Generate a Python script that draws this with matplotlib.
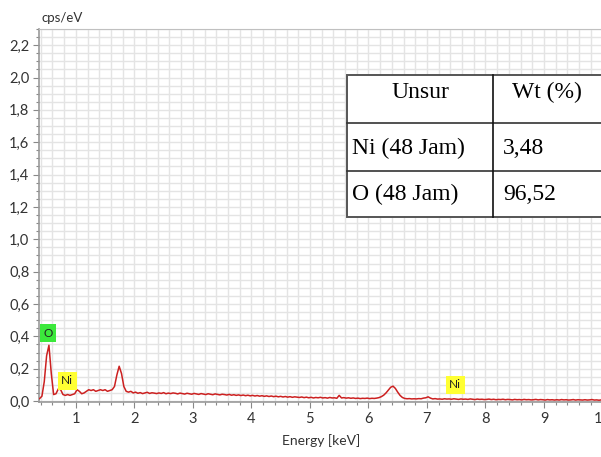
import matplotlib
matplotlib.use("Agg")
import matplotlib.pyplot as plt
from matplotlib.ticker import MultipleLocator, FuncFormatter
from matplotlib.lines import Line2D
import numpy as np

# EDS spectrum: channel start / width (keV) and intensities (cps/eV)
energy_start = 0.38
energy_step = 0.04
counts = [
    0.015, 0.03, 0.12, 0.28, 0.345, 0.17, 0.04, 0.045, 0.075, 0.07,
    0.04, 0.035, 0.04, 0.035, 0.04, 0.045, 0.07, 0.06, 0.045, 0.05,
    0.06, 0.07, 0.065, 0.07, 0.06, 0.065, 0.07, 0.065, 0.07, 0.06,
    0.065, 0.07, 0.09, 0.16, 0.215, 0.17, 0.09, 0.06, 0.055, 0.06,
    0.05,
    0.055, 0.048, 0.052, 0.046, 0.05, 0.054, 0.047, 0.051, 0.049, 0.046,
    0.05, 0.047, 0.052, 0.045, 0.049, 0.046, 0.05, 0.048, 0.044, 0.049,
    0.046, 0.043, 0.048, 0.045, 0.042, 0.047, 0.044, 0.041, 0.046, 0.043,
    0.04, 0.045, 0.042, 0.039, 0.044, 0.041, 0.038, 0.042, 0.04, 0.037,
    0.041, 0.036, 0.039, 0.035, 0.038, 0.034, 0.037, 0.033, 0.036, 0.032,
    0.035, 0.031, 0.034, 0.03, 0.033, 0.029, 0.032, 0.028, 0.031, 0.027,
    0.03, 0.026, 0.029, 0.025, 0.028, 0.024, 0.027, 0.023, 0.026, 0.024,
    0.022, 0.025, 0.021, 0.024, 0.02, 0.023, 0.019, 0.022, 0.02, 0.023,
    0.019, 0.021, 0.018, 0.022, 0.019, 0.02, 0.017, 0.035, 0.019, 0.021,
    0.018, 0.02, 0.017, 0.019, 0.016, 0.018, 0.015, 0.017, 0.016, 0.018,
    0.015, 0.017, 0.016, 0.018, 0.021, 0.027, 0.036, 0.05, 0.068, 0.085,
    0.092, 0.078, 0.055, 0.035, 0.022, 0.016, 0.014, 0.015, 0.013, 0.014,
    0.013, 0.015, 0.014, 0.018, 0.02, 0.026, 0.018, 0.013, 0.015, 0.012,
    0.013, 0.011, 0.014, 0.012, 0.013, 0.011, 0.014, 0.012, 0.01, 0.013,
    0.011, 0.012, 0.01, 0.013, 0.011, 0.009, 0.012, 0.01, 0.011, 0.009,
    0.01, 0.012, 0.009, 0.011, 0.008, 0.01, 0.009, 0.011, 0.008, 0.01,
    0.009, 0.007, 0.01, 0.008, 0.009, 0.007, 0.01, 0.008, 0.009, 0.007,
    0.008, 0.01, 0.007, 0.009, 0.008, 0.006, 0.009, 0.007, 0.008, 0.006,
    0.008, 0.006, 0.009, 0.007, 0.008, 0.006, 0.007, 0.009, 0.006, 0.008,
    0.007, 0.006, 0.008, 0.006, 0.007, 0.009, 0.006, 0.007, 0.005, 0.007,
]
energy = energy_start + energy_step * np.arange(len(counts))

# Element markers: label, energy (keV), label height (cps/eV), colour
peak_labels = ["O", "Ni", "Ni"]
peak_x = [0.52, 0.85, 7.48]
peak_y = [0.42, 0.124, 0.10]
peak_colors = ["#3be83b", "#ffff33", "#ffff33"]

# Composition table
table_header = ["Unsur", "Wt (%)"]
table_rows = [["Ni (48 Jam)", "3,48"], ["O (48 Jam)", "96,52"]]

W, H = 601, 457
fig = plt.figure(figsize=(W / 100, H / 100), dpi=100)
# plot area runs a little past the right edge of the canvas
ax = fig.add_axes([39 / W, (H - 402) / H, (602.5 - 39) / W, (402 - 29) / H])

ax.plot(energy, counts, color="#cc2020", lw=1.1, zorder=3)

ax.set_xlim(0.37, 10.0)
ax.set_ylim(-0.006, 2.30)
ax.xaxis.set_major_locator(MultipleLocator(1))
ax.xaxis.set_minor_locator(MultipleLocator(0.2))
ax.yaxis.set_major_locator(MultipleLocator(0.2))
ax.yaxis.set_minor_locator(MultipleLocator(0.05))
ax.yaxis.set_major_formatter(FuncFormatter(lambda v, p: f"{v:.1f}".replace(".", ",")))

ax.grid(which="both", color="#e4e4e4", lw=1.0, zorder=0)
ax.set_axisbelow(True)

tick_font = "Lato"
ax.tick_params(which="major", direction="out", length=4.5, width=0.8, color="#888888",
               labelsize=10.5, pad=2.5)
ax.tick_params(which="minor", direction="out", length=2.5, width=0.8, color="#888888")
for lab in ax.get_xticklabels() + ax.get_yticklabels():
    lab.set_fontfamily(tick_font)
    lab.set_color("#333333")

for side in ["left", "bottom"]:
    ax.spines[side].set_color("#999999")
    ax.spines[side].set_linewidth(1.2)
ax.spines["top"].set_color("#c0c0c0")
ax.spines["right"].set_visible(False)

ax.set_xlabel("Energy [keV]", fontfamily=tick_font, fontsize=10, color="#333333", labelpad=6)
fig.text(42 / W, 1 - 18 / H, "cps/eV", fontfamily=tick_font, fontsize=9.5,
         color="#333333", ha="left", va="center")

for lab, x, y, c in zip(peak_labels, peak_x, peak_y, peak_colors):
    ax.text(x, y, lab, fontfamily=tick_font, fontsize=8.5, ha="center", va="center",
            color="#222222", zorder=5,
            bbox=dict(boxstyle="square,pad=0.3", fc=c, ec="none"))

# Composition table drawn in pixel coordinates of the figure
def fx(px):
    return px / W

def fy(py):
    return 1 - py / H

left, mid, right = 347, 493, 603
top, r1, r2, bottom = 75, 123, 171, 217
fig.patches.append(plt.Rectangle((fx(left), fy(bottom)), fx(right) - fx(left),
                                 fy(top) - fy(bottom), transform=fig.transFigure,
                                 fc="white", ec="#555555", lw=1.4, zorder=10))
for yy in (r1, r2):
    fig.lines.append(Line2D([fx(left), fx(right)], [fy(yy), fy(yy)],
                            transform=fig.transFigure, color="#333333", lw=1.2, zorder=11))
fig.lines.append(Line2D([fx(mid), fx(mid)], [fy(top), fy(bottom)],
                        transform=fig.transFigure, color="#111111", lw=1.2, zorder=11))

serif = "Liberation Serif"
fs = 17
fig.text(fx((left + mid) / 2), fy(92), table_header[0], fontfamily=serif, fontsize=fs,
         ha="center", va="center", zorder=12)
fig.text(fx(547), fy(92), table_header[1], fontfamily=serif, fontsize=fs,
         ha="center", va="center", zorder=12)
for (name, val), yc in zip(table_rows, (148, 194)):
    fig.text(fx(352), fy(yc), name, fontfamily=serif, fontsize=fs,
             ha="left", va="center", zorder=12)
    fig.text(fx(503), fy(yc), val, fontfamily=serif, fontsize=fs,
             ha="left", va="center", zorder=12)

fig.savefig("out.png", dpi=100)
